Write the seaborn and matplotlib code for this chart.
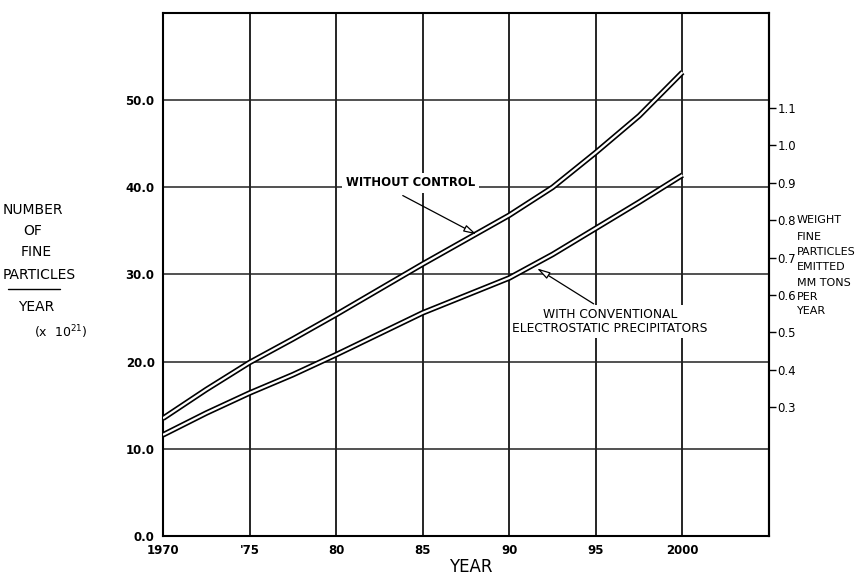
import matplotlib
matplotlib.use("Agg")
import matplotlib.pyplot as plt
import seaborn as sns
import pandas as pd

# ---- data ----
years = [1970, 1972.5, 1975, 1977.5, 1980, 1982.5, 1985, 1987.5, 1990, 1992.5, 1995, 1997.5, 2000]
without_control = [13.5, 16.8, 19.9, 22.6, 25.4, 28.3, 31.2, 34.0, 36.8, 40.0, 44.0, 48.2, 53.2]
with_precipitators = [11.6, 14.1, 16.4, 18.5, 20.8, 23.2, 25.6, 27.6, 29.6, 32.3, 35.3, 38.3, 41.4]

x_ticks = [1970, 1975, 1980, 1985, 1990, 1995, 2000]
x_labels = ["1970", "'75", "80", "85", "90", "95", "2000"]
y_ticks = [0, 10, 20, 30, 40, 50]
y_labels = ["0.0", "10.0", "20.0", "30.0", "40.0", "50.0"]
weight_ticks = [0.3, 0.4, 0.5, 0.6, 0.7, 0.8, 0.9, 1.0, 1.1]
weight_labels = ["0.3", "0.4", "0.5", "0.6", "0.7", "0.8", "0.9", "1.0", "1.1"]

df = pd.DataFrame({
    "year": years * 2,
    "value": without_control + with_precipitators,
    "series": ["WITHOUT CONTROL"] * len(years) + ["WITH PRECIPITATORS"] * len(years),
})

sns.set_theme(style="white", rc={"text.color": "black", "axes.labelcolor": "black",
                                 "xtick.color": "black", "ytick.color": "black"})
plt.rcParams["font.family"] = ["DejaVu Sans"]

fig = plt.figure(figsize=(8.67, 5.77), dpi=100)
ax = fig.add_axes([0.188, 0.0711, 0.699, 0.9064])

# double-line curves: thick black with thin white core
for name in ["WITHOUT CONTROL", "WITH PRECIPITATORS"]:
    sub = df[df["series"] == name]
    sns.lineplot(data=sub, x="year", y="value", ax=ax, color="black",
                 linewidth=4.0, legend=False, zorder=4,
                 solid_joinstyle="round", solid_capstyle="butt")
    sns.lineplot(data=sub, x="year", y="value", ax=ax, color="white",
                 linewidth=1.6, legend=False, zorder=5,
                 solid_joinstyle="round", solid_capstyle="butt")

ax.set_xlim(1970, 2005)
ax.set_ylim(0, 60)
ax.set_xticks(x_ticks)
ax.set_xticklabels(x_labels)
ax.set_yticks(y_ticks)
ax.set_yticklabels(y_labels)
ax.set_xlabel("")
ax.set_ylabel("")

ax.grid(True, axis="x", color="black", linewidth=1.2, zorder=1)
ax.grid(True, axis="y", color="#222222", linewidth=1.1, zorder=1)
for s in ax.spines.values():
    s.set_visible(True)
    s.set_color("black")
    s.set_linewidth(1.5)

ax.tick_params(axis="both", length=0, pad=6, labelsize=8.5, colors="black")
for lab in ax.get_yticklabels() + ax.get_xticklabels():
    lab.set_fontweight("bold")

# secondary scale (weight)
def to_w(y):
    return (y - 1.9) / 42.9

def to_y(w):
    return 1.9 + 42.9 * w

sec = ax.secondary_yaxis("right", functions=(to_w, to_y))
sec.set_yticks(weight_ticks)
sec.set_yticklabels(weight_labels)
sec.tick_params(direction="out", length=5, width=1.0, pad=1, labelsize=8.5, colors="black")
sec.spines["right"].set_linewidth(1.5)

# annotations
ax.annotate("WITHOUT CONTROL", xy=(1988.1, 34.6), xytext=(1984.3, 40.5),
            ha="center", va="center", fontsize=8.4, fontweight="bold", color="black",
            bbox=dict(boxstyle="square,pad=0.3", fc="white", ec="none"),
            arrowprops=dict(arrowstyle="-|>,head_length=0.9,head_width=0.25",
                            fc="white", ec="black", lw=0.9,
                            shrinkA=4, shrinkB=0, relpos=(0.35, 0.0)),
            zorder=6)
ax.annotate("WITH CONVENTIONAL\nELECTROSTATIC PRECIPITATORS",
            xy=(1991.6, 30.7), xytext=(1995.8, 24.6),
            ha="center", va="center", fontsize=8.8, linespacing=1.15, color="black",
            bbox=dict(boxstyle="square,pad=0.2", fc="white", ec="none"),
            arrowprops=dict(arrowstyle="-|>,head_length=0.9,head_width=0.25",
                            fc="white", ec="black", lw=0.9,
                            shrinkA=2, shrinkB=0, relpos=(0.45, 1.0)),
            zorder=6)

# axis titles
fig.text(471 / 867, 1 - 567 / 577, "YEAR", ha="center", va="center", fontsize=12)

H = 577.0
left_lines = [("NUMBER", 33, 210), ("OF", 33, 231), ("FINE", 36, 252),
              ("PARTICLES", 39, 275), ("YEAR", 36, 307)]
for txt, xc, yc in left_lines:
    fig.text(xc / 867, 1 - yc / H, txt, ha="center", va="center", fontsize=10)
fig.text(61 / 867, 1 - 332 / H, r"(x  10$^{21}$)", ha="center", va="center", fontsize=9)
fig.add_artist(plt.Line2D([8 / 867, 60 / 867], [1 - 289 / H, 1 - 289 / H],
                          color="black", linewidth=1.0))

right_lines = [("WEIGHT", 220), ("FINE", 237), ("PARTICLES", 252), ("EMITTED", 267),
               ("MM TONS", 283), ("PER", 297), ("YEAR", 311)]
for txt, yc in right_lines:
    fig.text(797 / 867, 1 - yc / H, txt, ha="left", va="center", fontsize=8)

fig.savefig("out.png", dpi=100)
